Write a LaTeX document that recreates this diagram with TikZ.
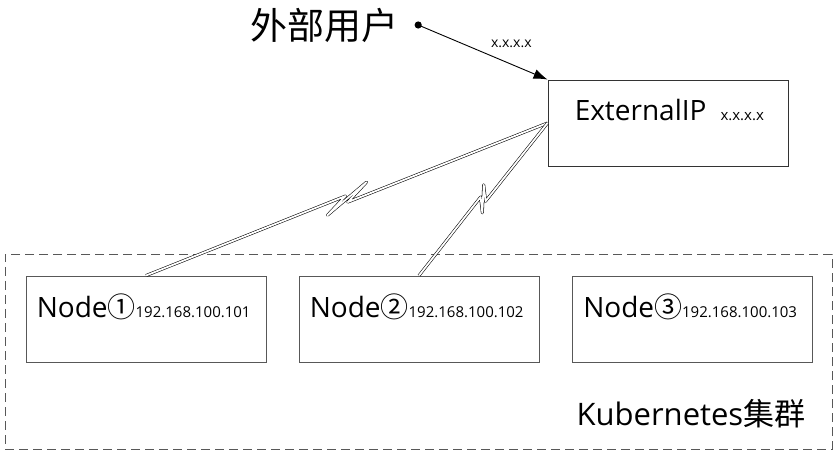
\documentclass[tikz,border=0pt]{standalone}
\usepackage{fontspec}
\setmainfont{Open Sans}
\newfontfamily\cjk{Noto Sans CJK SC}
\usetikzlibrary{positioning,calc,arrows.meta}
\definecolor{boxline}{RGB}{88,88,88}
\tikzset{
  hostbox/.style={draw=boxline,line width=0.9pt,minimum width=240pt,minimum height=86pt,inner sep=0pt},
  bolt/.style={draw=black,line width=0.55pt,double=white,double distance=1.8pt,line join=round},
  bigtxt/.style={font=\fontsize{28}{30}\selectfont,inner sep=0pt},
}
\newcommand{\iptxt}[1]{{\fontsize{15}{16}\selectfont #1}}
\newcommand{\boltline}[2]{%
  \draw[bolt] (#1) -- ($(#1)!0.5!(#2)!3pt!90:(#2)$)
    -- ($(#1)!0.443!(#2)!9pt!-90:(#2)$)
    -- ($(#1)!0.555!(#2)!8pt!90:(#2)$)
    -- ($(#1)!0.5!(#2)!3.5pt!-90:(#2)$) -- (#2);
}

\begin{document}
\begin{tikzpicture}[x=1pt,y=-1pt]
\useasboundingbox (0,0) rectangle (840,454);
% cluster frame
\node[draw=boxline,dashed,dash pattern=on 9pt off 5pt,line width=0.9pt,
  minimum width=827pt,minimum height=195pt,inner sep=0pt] (cluster) at (418.5,351.5) {};
\node[anchor=east,inner sep=0pt,font=\fontsize{31}{32}\selectfont]
  (k8s) at ([xshift=-27pt,yshift=36pt]cluster.south east) {Kubernetes{\cjk 集群}};

% hosts
\node[hostbox] (n1) at (146,319) {};
\node[hostbox] (n2) at (419,319) {};
\node[hostbox] (n3) at (692.5,319) {};
\foreach \i in {1,2,3}{
  \node[bigtxt,anchor=west] (t\i) at ([xshift=11pt,yshift=-31pt]n\i.north west)
    {Node{\cjk \ifcase\i\or ①\or ②\or ③\fi}\iptxt{192.168.100.10\i}};
}

% external ip
\node[hostbox,draw=black!80] (ext) at (668,123) {};
\node[bigtxt,anchor=west] (extlbl) at ([xshift=27pt,yshift=-30pt]ext.north west)
  {ExternalIP\hspace{14pt}\iptxt{x.x.x.x}};

% user
\node[inner sep=0pt,font=\fontsize{37}{38}\selectfont] (user) at (324,25) {\cjk 外部用户};
\coordinate (userpt) at ([xshift=20pt]user.east);
\fill (userpt) circle (3.6pt);
\draw[line width=0.9pt,-{Latex[length=14pt,width=10pt]}] (userpt) -- (ext.north west)
  node[pos=0.72,above=16pt,inner sep=0pt,font=\fontsize{14}{15}\selectfont] (addr) {x.x.x.x};

% links
\boltline{ext.west}{n1.north}
\boltline{ext.west}{n2.north}
\end{tikzpicture}
\end{document}
